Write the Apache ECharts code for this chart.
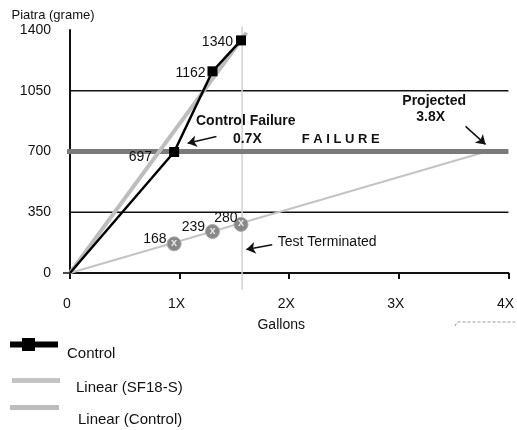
<!DOCTYPE html>
<html>
<head>
<meta charset="utf-8">
<script src="https://cdn.jsdelivr.net/npm/echarts@6/dist/echarts.min.js"></script>
<style>
  html, body { margin: 0; padding: 0; background: #fff; }
  #chart { width: 517px; height: 430px; }
</style>
</head>
<body>
<div id="chart"></div>
<script>
// control run: gallons (multiples) vs stone weight in grams
const gallons = [0, 0.95, 1.3, 1.56];
const controlStone = [0, 697, 1162, 1340];

// SF18-S run
const sf18Gallons = [0.95, 1.3, 1.56];
const sf18Stone = [168, 239, 280];

// trend lines, start and end points
const linearControlX = [0, 1.61];
const linearControlY = [0, 1385];
const linearSf18X = [0, 3.8];
const linearSf18Y = [0, 700];

const failureLevel = 700;
const refLevels = [350, 1050];
const testEndGallons = 1.57;

const xTickLabels = ['0', '1X', '2X', '3X', '4X'];

// annotations in data coords
const notes = [
  { text: 'Control Failure', at: [1.145, 874], bold: true, size: 14 },
  { text: '0.7X', at: [1.482, 770], bold: true, size: 14 },
  { text: 'F A I L U R E', at: [2.109, 770], bold: true, size: 13 },
  { text: 'Projected', at: [3.027, 990], bold: true, size: 14 },
  { text: '3.8X', at: [3.155, 897], bold: true, size: 14 },
  { text: 'Test Terminated', at: [1.891, 175], bold: false, size: 14 }
];
const arrows = [
  [[1.336, 787], [1.073, 747]],
  [[3.609, 845], [3.791, 741]],
  [[1.845, 163], [1.609, 135]]
];

const FONT = '"Liberation Sans", Arial, sans-serif';
const TXT = '#111';
const overhang = -0.064; // gridlines poke left of the axis like ticks

const chart = echarts.init(document.getElementById('chart'));

const controlLabelOffsets = [[0, 0], [-14, 5], [1, 2], [0, 2]];
const sf18LabelOffsets = [[0, -5], [0, -4], [4, -6]];

function hLine(v, color, width, z) {
  return {
    type: 'line', z: z, silent: true, symbol: 'none', clip: false,
    data: [[overhang, v], [4, v]],
    lineStyle: { color: color, width: width },
    animation: false
  };
}

const series = [
  hLine(refLevels[0], '#111', 1.5, 1),
  hLine(refLevels[1], '#111', 1.5, 1),
  {
    type: 'line', z: 1, silent: true, symbol: 'none', clip: false,
    data: [[testEndGallons, 1420], [testEndGallons, -96]],
    lineStyle: { color: '#d2d2d2', width: 1.5 },
    animation: false
  },
  {
    name: 'Linear (SF18-S)', type: 'line', z: 2, symbol: 'none',
    data: linearSf18X.map((x, i) => [x, linearSf18Y[i]]),
    lineStyle: { color: '#c4c4c4', width: 2 },
    itemStyle: { color: '#c4c4c4' },
    animation: false,
    markLine: {
      silent: true, animation: false, z: 6,
      symbol: ['none', 'arrow'], symbolSize: 9,
      itemStyle: { color: '#111' },
      lineStyle: { color: '#111', width: 1.5, type: 'solid' },
      label: { show: false },
      data: arrows.map(a => [{ coord: a[0] }, { coord: a[1] }])
    },
    markPoint: {
      silent: true, animation: false, z: 6,
      symbol: 'circle', symbolSize: 1,
      itemStyle: { color: 'rgba(0,0,0,0)' },
      data: notes.map(n => ({
        coord: n.at,
        label: {
          show: true, position: 'right', distance: 0,
          formatter: n.text, color: TXT, fontFamily: FONT,
          fontSize: n.size, fontWeight: n.bold ? 'bold' : 'normal'
        }
      }))
    }
  },
  hLine(failureLevel, '#7a7a7a', 5, 3),
  {
    name: 'Linear (Control)', type: 'line', z: 4, symbol: 'none',
    data: linearControlX.map((x, i) => [x, linearControlY[i]]),
    lineStyle: { color: '#bdbdbd', width: 4 },
    itemStyle: { color: '#bdbdbd' },
    animation: false
  },
  {
    name: 'Control', type: 'line', z: 5,
    symbol: 'rect', symbolSize: 10,
    data: gallons.map((g, i) => ({
      value: [g, controlStone[i]],
      symbol: i === 0 ? 'none' : 'rect',
      label: { show: i > 0, offset: controlLabelOffsets[i] }
    })),
    lineStyle: { color: '#000', width: 2.5 },
    itemStyle: { color: '#000' },
    label: {
      position: 'left', distance: 3, color: TXT, fontFamily: FONT, fontSize: 14,
      formatter: p => p.value[1]
    },
    animation: false
  },
  {
    name: 'SF18-S', type: 'scatter', z: 6,
    symbol: 'circle', symbolSize: 14,
    data: sf18Gallons.map((g, i) => ({
      value: [g, sf18Stone[i]],
      label: { offset: sf18LabelOffsets[i] }
    })),
    itemStyle: { color: '#888', borderColor: '#a8a8a8', borderWidth: 1, opacity: 1 },
    label: {
      show: true, position: 'left', distance: 0, color: TXT, fontFamily: FONT, fontSize: 14,
      formatter: p => p.value[1]
    },
    emphasis: { disabled: true },
    animation: false
  },
  {
    type: 'scatter', z: 7, silent: true,
    symbol: 'circle', symbolSize: 1,
    data: sf18Gallons.map((g, i) => [g, sf18Stone[i]]),
    itemStyle: { color: 'rgba(0,0,0,0)' },
    label: {
      show: true, position: 'inside', formatter: 'x', color: '#fff',
      fontFamily: FONT, fontSize: 11, fontWeight: 'bold', offset: [0, -1]
    },
    animation: false
  }
];

// icons carry an invisible speck below so the text sits lower than the swatch
function legendAt(name, left, top, w, h, icon, padLeft) {
  return {
    data: [name], left: left, top: top, orient: 'vertical', padding: 0,
    itemWidth: w, itemHeight: h, icon: icon, selectedMode: false,
    textStyle: { fontFamily: FONT, fontSize: 15, color: TXT, padding: [0, 0, 0, padLeft] }
  };
}

chart.setOption({
  backgroundColor: '#fff',
  animation: false,
  textStyle: { fontFamily: FONT },
  grid: { left: 70, right: 7, top: 30, bottom: 157 },
  xAxis: {
    type: 'value', min: 0, max: 4, interval: 1,
    name: 'Gallons', nameLocation: 'middle', nameGap: 45,
    nameTextStyle: { color: TXT, fontSize: 14, fontFamily: FONT, padding: [0, 16, 0, 0] },
    axisLine: { lineStyle: { color: '#111', width: 2 } },
    axisTick: { show: true, length: 6, lineStyle: { color: '#111', width: 2 } },
    axisLabel: {
      color: TXT, fontSize: 14, fontFamily: FONT, margin: 24, padding: [0, 6, 0, 0],
      formatter: (v) => xTickLabels[Math.round(v)]
    },
    splitLine: { show: false }
  },
  yAxis: {
    type: 'value', min: 0, max: 1400, interval: 350,
    name: 'Piatra (grame)', nameLocation: 'end', nameGap: 8,
    nameTextStyle: { color: TXT, fontSize: 13, fontFamily: FONT, padding: [0, 34, 0, 0] },
    axisLine: { show: true, lineStyle: { color: '#111', width: 2 } },
    axisTick: { show: true, length: 7, customValues: [0], lineStyle: { color: '#111', width: 1.5 } },
    axisLabel: { color: TXT, fontSize: 14, fontFamily: FONT, margin: 19, formatter: (v) => String(v) },
    splitLine: { show: false }
  },
  legend: [
    legendAt('Control', 10, 338, 48, 32, 'path://M0,3.5H48V9.5H0Z M12,0H25V13H12Z M0,31.99H0.01V32H0Z', 4),
    legendAt('Linear (SF18-S)', 12, 378, 48, 20, 'path://M0,0H48V5H0Z M0,19.99H0.01V20H0Z', 11),
    legendAt('Linear (Control)', 10, 405, 49, 30, 'path://M0,0H49V5H0Z M0,29.99H0.01V30H0Z', 14)
  ],
  graphic: [{
    type: 'polyline', silent: true,
    shape: { points: [[455, 326], [457, 322], [515, 322]] },
    style: { stroke: '#999', lineWidth: 1, lineDash: [3, 2], fill: null }
  }],
  series: series
});
</script>
</body>
</html>
